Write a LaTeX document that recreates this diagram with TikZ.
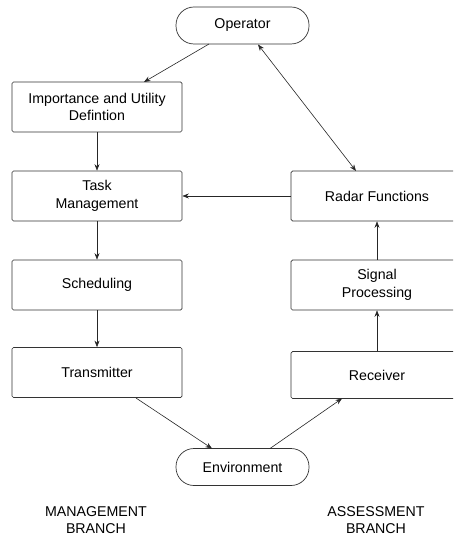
\documentclass[tikz,border=0pt]{standalone}
\usepackage{fontspec}
\setmainfont{Liberation Sans}
\usetikzlibrary{arrows.meta}
\begin{document}
\begin{tikzpicture}[x=1pt,y=-1pt,
  fnt/.style={font=\fontsize{14.2}{17.5}\selectfont},
  box/.style={draw=black!80,line width=0.7pt,rounded corners=1.5pt,minimum width=170pt,minimum height=50pt,align=center,inner sep=0pt,fnt},
  pill/.style={draw=black!80,line width=0.7pt,rounded corners=18pt,minimum width=133pt,minimum height=37pt,inner sep=0pt,fnt},
  lbl/.style={align=center,fnt},
  conn/.style={draw=black!85,line width=0.6pt,-{Stealth[length=6.5pt,width=5pt]}}]
\useasboundingbox (0,0) rectangle (453,537);
\begin{scope}
\clip (0,0) rectangle (453,537);
\node[pill] (op) at (242.5,25.5) {Operator};
\node[box] (imp) at (97,107) {Importance and Utility\\Defintion};
\node[box] (task) at (97,196) {Task\\Management};
\node[box] (sched) at (97,285) {Scheduling};
\node[box] (trans) at (97,372.5) {Transmitter};
\node[box,minimum width=172pt] (radar) at (377,196) {Radar Functions};
\node[box,minimum width=172pt] (sig) at (377,285) {Signal\\Processing};
\node[box,minimum width=172pt,minimum height=47pt] (rec) at (377,375) {Receiver};
\node[pill] (env) at (242.5,467) {Environment};
\node[lbl] (mb) at (96,520) {MANAGEMENT\\BRANCH};
\node[lbl] (ab) at (376,520) {ASSESSMENT\\BRANCH};
\coordinate (opa) at (209,44);
\coordinate (impa) at (144,82);
\coordinate (opb) at (258,44.5);
\coordinate (radb) at (356,171);
\coordinate (transa) at (136,398);
\coordinate (enva) at (212,448.5);
\coordinate (envb) at (270,448.5);
\coordinate (reca) at (342,398.5);
\draw[conn] (opa) -- (impa);
\draw[conn] (imp) -- (task);
\draw[conn] (task) -- (sched);
\draw[conn] (sched) -- (trans);
\draw[conn] (radar) -- (task);
\draw[conn] (transa) -- (enva);
\draw[conn] (envb) -- (reca);
\draw[conn] (rec) -- (sig);
\draw[conn] (sig) -- (radar);
\draw[conn,{Stealth[length=6.5pt,width=5pt]}-{Stealth[length=6.5pt,width=5pt]}] (opb) -- (radb);
\end{scope}
\end{tikzpicture}
\end{document}
